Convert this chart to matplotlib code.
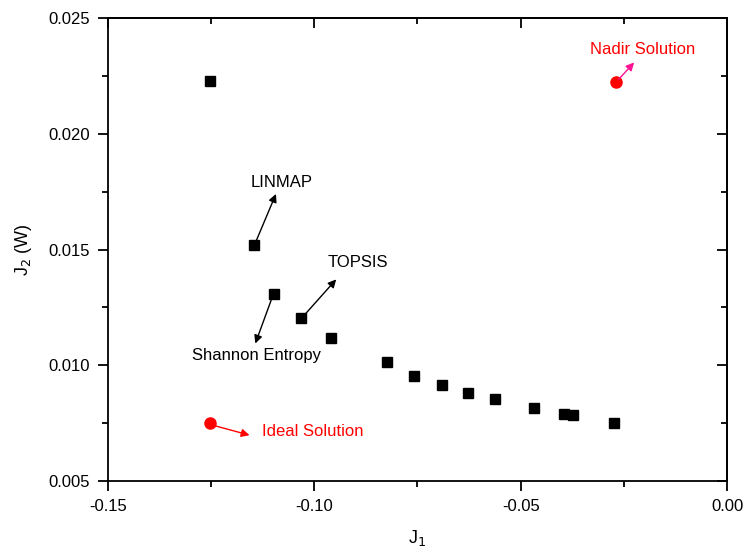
import matplotlib
matplotlib.use("Agg")
import matplotlib.pyplot as plt
from matplotlib.ticker import MultipleLocator, FormatStrFormatter

# Pareto front points (J1, J2)
j1 = [-0.1254, -0.1145, -0.1097, -0.1032, -0.0960, -0.0825, -0.0758,
      -0.0691, -0.0627, -0.0563, -0.0467, -0.0395, -0.0373, -0.0274]
j2 = [0.02230, 0.01518, 0.01309, 0.01202, 0.01117, 0.01012, 0.00953,
      0.00915, 0.00882, 0.00853, 0.00814, 0.00788, 0.00783, 0.00751]

ideal = (-0.1253, 0.00749)
nadir = (-0.0269, 0.02223)

# label, text position, arrow tail, arrow head, colour
notes = [
    ("LINMAP", (-0.1079, 0.0179), (-0.1140, 0.01541), (-0.1093, 0.01740), "black"),
    ("TOPSIS", (-0.0894, 0.01444), (-0.1024, 0.01217), (-0.0947, 0.01371), "black"),
    ("Shannon Entropy", (-0.1141, 0.01044), (-0.1103, 0.01289), (-0.1143, 0.01094), "black"),
    ("Ideal Solution", (-0.1005, 0.00712), (-0.1246, 0.00741), (-0.1157, 0.00698), "red"),
    ("Nadir Solution", (-0.0205, 0.02363), (-0.0262, 0.02236), (-0.0225, 0.02308), "red"),
]
arrow_colors = ["black", "black", "black", "red", "#ff1493"]

plt.rcParams["font.family"] = ["Liberation Sans", "DejaVu Sans"]
plt.rcParams["font.size"] = 12

fig = plt.figure(figsize=(7.47, 5.56), dpi=100)
ax = fig.add_axes([108 / 747, 1 - 481 / 556, (727 - 108) / 747, (481 - 18) / 556])

ax.plot(j1, j2, "s", color="black", markersize=7, linestyle="none")
ax.plot([ideal[0], nadir[0]], [ideal[1], nadir[1]], "o", color="red",
        markersize=8, linestyle="none")

for (label, txt, tail, head, col), acol in zip(notes, arrow_colors):
    ax.annotate("", xy=head, xytext=tail,
                arrowprops=dict(arrowstyle="-|>", color=acol, lw=1.0,
                                mutation_scale=12, shrinkA=0, shrinkB=0))
    ax.text(txt[0], txt[1], label, color=col, ha="center", va="center",
            fontsize=12)

ax.set_xlim(-0.15, 0.0)
ax.set_ylim(0.005, 0.025)

# top / right axes carry inward ticks without labels
top = ax.secondary_xaxis("top")
right = ax.secondary_yaxis("right")

for a in (ax.xaxis, top.xaxis):
    a.set_major_locator(MultipleLocator(0.05))
    a.set_minor_locator(MultipleLocator(0.025))
for a in (ax.yaxis, right.yaxis):
    a.set_major_locator(MultipleLocator(0.005))
    a.set_minor_locator(MultipleLocator(0.0025))
ax.xaxis.set_major_formatter(FormatStrFormatter("%.2f"))
ax.yaxis.set_major_formatter(FormatStrFormatter("%.3f"))

for side in ax.spines.values():
    side.set_linewidth(1.3)
top.spines["top"].set_linewidth(1.3)
right.spines["right"].set_linewidth(1.3)

ax.tick_params(which="major", direction="out", length=7, width=1.3,
               labelsize=12, pad=6)
ax.tick_params(which="minor", direction="out", length=4, width=1.3)
for s in (top, right):
    s.tick_params(which="major", direction="in", length=7, width=1.3,
                  labeltop=False, labelright=False)
    s.tick_params(which="minor", direction="in", length=4, width=1.3)

ax.set_xlabel("J$_1$", fontsize=13, labelpad=10)
ax.set_ylabel("J$_2$ (W)", fontsize=13, labelpad=10)

fig.savefig("out.png", dpi=100)
